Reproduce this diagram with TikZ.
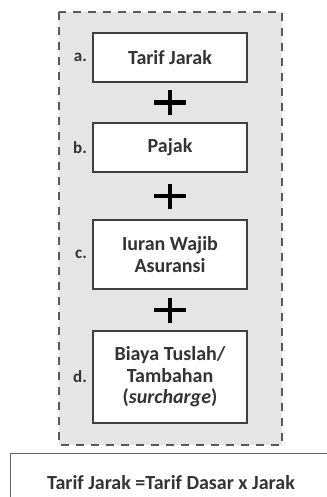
\documentclass[tikz,border=0pt]{standalone}
\usepackage{fontspec}
\setmainfont{Carlito}
\usetikzlibrary{positioning,calc}

\begin{document}
\begin{tikzpicture}[x=1pt,y=-1pt,
  item/.style={draw=black!75,fill=white,line width=1.3pt,minimum width=154pt,
    align=center,text=black!80,font=\fontsize{20}{21.5}\selectfont\bfseries},
  tag/.style={text=black!80,font=\fontsize{17}{20}\selectfont\bfseries},
  plus/.style={line width=4.5pt,black}]
\useasboundingbox (0,0) rectangle (326,497);
% dashed frame round the four parts
\draw[draw=black!65,fill=black!10,line width=1.6pt,dash pattern=on 8pt off 7pt]
  (59,12) rectangle (282,445);
\node[item,minimum height=49pt] (tarif) at (170,57.5) {Tarif Jarak};
\node[item,minimum height=49pt] (pajak) at (170,147.5) {Pajak};
\node[item,minimum height=69pt] (iuran) at (170,254.5) {Iuran Wajib\\Asuransi};
\node[item,minimum height=92pt] (biaya) at (170,377) {Biaya Tuslah/\\Tambahan\\(\textit{surcharge})};
\node[tag,left=2pt of tarif] {a.};
\node[tag,left=2pt of pajak] {b.};
\node[tag,left=2pt of iuran] {c.};
\node[tag,left=2pt of biaya] {d.};
% plus signs between the boxes
\foreach \u/\l in {tarif/pajak,pajak/iuran,iuran/biaya}{
  \coordinate (p) at ($(\u.south)!.5!(\l.north)$);
  \draw[plus] ($(p)+(-16,0)$) -- ($(p)+(16,0)$);
  \draw[plus] ($(p)+(0,-12.5)$) -- ($(p)+(0,12.5)$);
}
% formula box at the foot
\draw[draw=black!60,line width=1pt] (10,520) |- (340,453);
\node[text=black!80,font=\fontsize{20}{22}\selectfont\bfseries] (rumus) at (171,483)
  {Tarif Jarak =Tarif Dasar x Jarak};
\end{tikzpicture}
\end{document}
